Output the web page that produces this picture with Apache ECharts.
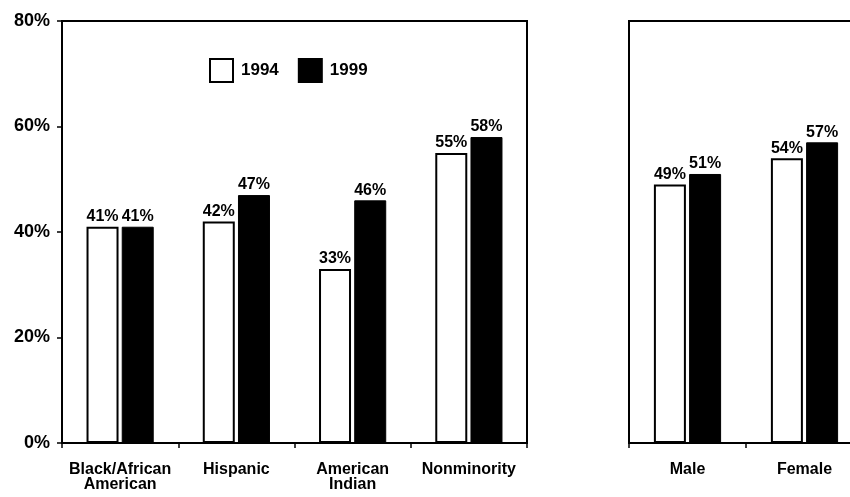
<!DOCTYPE html>
<html>
<head>
<meta charset="utf-8">
<script src="https://cdn.jsdelivr.net/npm/echarts@6/dist/echarts.min.js"></script>
<style>
  html, body { margin: 0; padding: 0; background: #fff; overflow: hidden; }
  /* the gender panel runs past the right edge of the page */
  #chart { width: 863px; height: 497px; }
</style>
</head>
<body>
<div id="chart"></div>
<script>
// Share of students, 1994 vs 1999, by race/ethnicity and by gender
const raceCategories = ['Black/African\nAmerican', 'Hispanic', 'American\nIndian', 'Nonminority'];
const race1994 = [41, 42, 33, 55];
const race1999 = [41, 47, 46, 58];

const genderCategories = ['Male', 'Female'];
const gender1994 = [49, 54];
const gender1999 = [51, 57];

const yTicks = [0, 20, 40, 60, 80];
const seriesNames = ['1994', '1999'];

const FONT = "'Liberation Sans', Arial, Helvetica, sans-serif";
const INK = '#000';

const chart = echarts.init(document.getElementById('chart'), null, { renderer: 'canvas' });

function valueLabel() {
  return {
    show: true,
    position: 'top',
    distance: 2,
    formatter: p => p.value + '%',
    fontFamily: FONT,
    fontWeight: 'bold',
    fontSize: 16,
    color: INK
  };
}

function barPair(xi, d94, d99) {
  return [
    {
      name: seriesNames[0], type: 'bar', xAxisIndex: xi, yAxisIndex: xi,
      data: d94, barWidth: 32, barGap: '10%',
      itemStyle: { color: '#fff', borderColor: INK, borderWidth: 2 },
      label: valueLabel()
    },
    {
      name: seriesNames[1], type: 'bar', xAxisIndex: xi, yAxisIndex: xi,
      data: d99, barWidth: 32, barGap: '10%',
      itemStyle: { color: INK, borderColor: INK, borderWidth: 1 },
      label: valueLabel()
    }
  ];
}

function catAxis(gi, cats) {
  return {
    type: 'category', gridIndex: gi, data: cats,
    axisLine: { lineStyle: { color: INK, width: 2 } },
    axisTick: { show: true, length: 5, lineStyle: { color: INK, width: 1.5 } },
    axisLabel: {
      margin: 19, fontFamily: FONT, fontWeight: 'bold', fontSize: 16,
      lineHeight: 15, color: INK, interval: 0
    }
  };
}

function valAxis(gi, labels) {
  return {
    type: 'value', gridIndex: gi,
    min: yTicks[0], max: yTicks[yTicks.length - 1], interval: yTicks[1] - yTicks[0],
    splitLine: { show: false },
    axisLine: { show: true, lineStyle: { color: INK, width: 2 } },
    axisTick: { show: labels, length: 5, lineStyle: { color: INK, width: 1.5 } },
    axisLabel: {
      show: labels, margin: 12, formatter: v => v + '%',
      fontFamily: FONT, fontWeight: 'bold', fontSize: 18, color: INK
    }
  };
}

chart.setOption({
  animation: false,
  backgroundColor: '#fff',
  legend: {
    data: seriesNames,
    left: 209, top: 58, padding: 0,
    itemWidth: 23, itemHeight: 23, itemGap: 19,
    icon: 'rect',
    textStyle: { fontFamily: FONT, fontWeight: 'bold', fontSize: 17, color: INK, padding: [0, 0, 0, 3] }
  },
  grid: [
    { left: 62, right: 336, top: 21, bottom: 54, show: true, borderColor: INK, borderWidth: 2, containLabel: false },
    { left: 629, right: 0, top: 21, bottom: 54, show: true, borderColor: INK, borderWidth: 2, containLabel: false }
  ],
  xAxis: [catAxis(0, raceCategories), catAxis(1, genderCategories)],
  yAxis: [valAxis(0, true), valAxis(1, false)],
  series: [...barPair(0, race1994, race1999), ...barPair(1, gender1994, gender1999)]
});
</script>
</body>
</html>
